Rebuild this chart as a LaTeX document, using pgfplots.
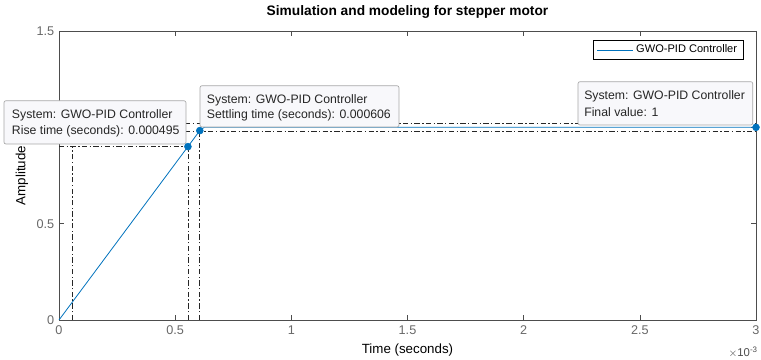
\documentclass[border=0pt]{standalone}
\usepackage{fontspec}
\setmainfont{Liberation Sans}
\usepackage{pgfplots}
\pgfplotsset{compat=1.18}

\definecolor{mblue}{HTML}{0072BD}
\definecolor{axgray}{HTML}{4D4D4D}
\definecolor{tipfill}{HTML}{F8F8FB}
\definecolor{tipedge}{HTML}{A8A8A8}
\definecolor{tiptext}{HTML}{262626}

\tikzset{
  dashdot/.style={black!85, line width=0.5pt, dash pattern=on 4pt off 1.8pt on 1pt off 1.8pt},
  tipbox/.style={draw=tipedge, fill=tipfill, rounded corners=1.5pt, line width=0.5pt},
  tiptxt/.style={anchor=west, inner sep=0pt, text=tiptext, font=\fontsize{9.2}{11}\selectfont},
}

\begin{document}
\begin{tikzpicture}
\begin{axis}[
  name=ax,
  scale only axis,
  width=522.75pt, height=216.75pt,
  xmin=0, xmax=3, ymin=0, ymax=1.5,
  xtick={0,0.5,1,1.5,2,2.5,3},
  ytick={0,0.5,1,1.5},
  xticklabels={0,0.5,1,1.5,2,2.5,3},
  yticklabels={0,0.5,1,1.5},
  tick align=inside,
  major tick length=4pt,
  axis line style={axgray, line width=0.5pt},
  tick style={axgray, line width=0.5pt},
  every tick label/.append style={text=axgray!85, font=\fontsize{9.5}{11}\selectfont},
  xticklabel style={yshift=-1pt},
  /pgf/number format/assume math mode=true,
  clip=false,
  legend style={at={(0.9828,0.9689)}, anchor=north east, draw=black, line width=0.4pt,
    fill=white, font=\fontsize{8.3}{10}\selectfont, inner xsep=3pt, inner ysep=1.5pt,
    row sep=0pt},
  legend cell align=left,
  legend image code/.code={\draw[#1, line width=0.6pt] (0pt,0pt) -- (27pt,0pt);},
]
% y-axis label, set first so the data tip lies over it
\node[anchor=center, rotate=90, font=\fontsize{10}{12}\selectfont, inner sep=0pt]
  at ([xshift=-27.75pt]rel axis cs:0,0.5) {Amplitude};

% rise-time guides (10% and 90%)
\addplot[dashdot, forget plot] coordinates {(0,0.9) (0.555,0.9)};
\addplot[dashdot, forget plot] coordinates {(0.059,0) (0.059,0.9)};
\addplot[dashdot, forget plot] coordinates {(0.555,0) (0.555,0.9)};
% settling-time guides (2% band)
\addplot[dashdot, forget plot] coordinates {(0.606,0) (0.606,0.98)};
\addplot[dashdot, forget plot] coordinates {(0,1.02) (3,1.02)};
\addplot[dashdot, forget plot] coordinates {(0,0.98) (3,0.98)};

% step response
\addplot[mblue, line width=0.6pt] coordinates {
  (0,0) (0.555,0.9) (0.606,0.983) (0.625,1.0) (3,1.0)
};
\addlegendentry{GWO-PID Controller}

% characteristic points
\addplot[only marks, mark=*, mark size=2.6pt, mblue, mark options={fill=mblue, draw=mblue}, forget plot]
  coordinates {(0.555,0.9) (0.606,0.983) (3,1.0)};

% data tips
\draw[tipbox] (axis cs:-0.237,0.9135) rectangle (axis cs:0.5466,1.138);
\node[tiptxt] at (axis cs:-0.2036,1.064) {System: GWO-PID Controller};
\node[tiptxt] at (axis cs:-0.2036,0.981) {Rise time (seconds): 0.000495};

\draw[tipbox] (axis cs:0.6069,1.0017) rectangle (axis cs:1.4634,1.216);
\node[tiptxt] at (axis cs:0.6357,1.138) {System: GWO-PID Controller};
\node[tiptxt] at (axis cs:0.6357,1.064) {Settling time (seconds): 0.000606};

\draw[tipbox] (axis cs:2.234,1.012) rectangle (axis cs:2.986,1.237);
\node[tiptxt] at (axis cs:2.2597,1.159) {System: GWO-PID Controller};
\node[tiptxt] at (axis cs:2.2597,1.078) {Final value: 1};
\end{axis}
% title, x-axis label and exponent
\node[anchor=center, font=\fontsize{10.3}{12}\selectfont\bfseries, inner sep=0pt]
  at ([yshift=14.25pt]ax.north) {Simulation and modeling for stepper motor};
\node[anchor=center, font=\fontsize{10}{12}\selectfont, inner sep=0pt]
  at ([yshift=-22.5pt]ax.south) {Time (seconds)};
\node[anchor=east, text=axgray, font=\fontsize{8.5}{10}\selectfont, inner sep=0pt]
  at ([shift={(1.5pt,-24pt)}]ax.south east) {$\times$10\textsuperscript{-3}};
\pgfresetboundingbox
\path ([shift={(-44.25pt,-30pt)}]ax.south west) rectangle ([shift={(3.75pt,23.25pt)}]ax.north east);
\end{tikzpicture}
\end{document}
